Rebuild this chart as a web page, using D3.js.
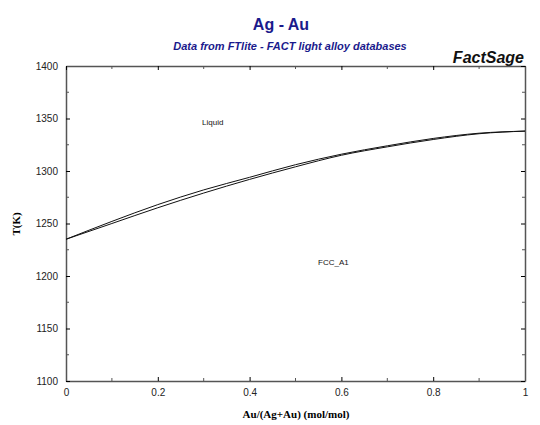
<!DOCTYPE html>
<html><head><meta charset="utf-8">
<script src="https://cdn.jsdelivr.net/npm/d3@7"></script>
<style>body{margin:0;background:#fff}</style>
</head><body>
<script>
var xs = [0, 0.1, 0.2, 0.3, 0.4, 0.5, 0.6, 0.7, 0.8, 0.9, 1.0];
var liquidus = [1235, 1252, 1268, 1282, 1294, 1306, 1316, 1324, 1331, 1336, 1338];
var solidus = [1235, 1250, 1265, 1279, 1292, 1304, 1315, 1323, 1330, 1335.5, 1338];
var xTicks = [0, 0.2, 0.4, 0.6, 0.8, 1];
var yTicks = [1100, 1150, 1200, 1250, 1300, 1350, 1400];

var svg = d3.select('body').append('svg').attr('width', 540).attr('height', 425);
var x = d3.scaleLinear().domain([0, 1]).range([66, 525]);
var y = d3.scaleLinear().domain([1100, 1400]).range([381, 66]);
var font = 'Arial, "Liberation Sans", sans-serif';

svg.append('text').attr('x', 281).attr('y', 30).attr('text-anchor', 'middle')
  .attr('font-family', font).attr('font-weight', 'bold').attr('font-size', 16)
  .attr('fill', '#1a1a8c').text('Ag - Au');
svg.append('text').attr('x', 290).attr('y', 50).attr('text-anchor', 'middle')
  .attr('font-family', font).attr('font-weight', 'bold').attr('font-style', 'italic')
  .attr('font-size', 11).attr('fill', '#1a1a8c').text('Data from FTlite - FACT light alloy databases');
svg.append('text').attr('x', 524).attr('y', 63).attr('text-anchor', 'end')
  .attr('font-family', font).attr('font-weight', 'bold').attr('font-style', 'italic')
  .attr('font-size', 16).attr('fill', '#111').text('FactSage');

function ax(gen, tx, ty, ticks) {
  var g = svg.append('g').attr('transform', 'translate(' + tx + ',' + ty + ')')
    .call(gen.tickValues(ticks).tickSizeInner(-4).tickSizeOuter(0).tickPadding(8));
  g.selectAll('text').attr('font-family', font).attr('font-size', 10).attr('fill', '#222');
  g.select('.domain').attr('stroke', '#555').attr('stroke-width', 1.5);
  return g;
}
var xMinor = d3.range(0.1, 1, 0.2), yMinor = d3.range(1125, 1400, 50);
ax(d3.axisBottom(x).tickFormat(d3.format('~g')), 0, 381, xTicks);
ax(d3.axisLeft(y).tickFormat(d3.format('d')), 66, 0, yTicks);
ax(d3.axisTop(x), 0, 66, xTicks).selectAll('text').remove();
ax(d3.axisRight(y), 525, 0, yTicks).selectAll('text').remove();
svg.append('g').selectAll('line').data(xMinor).join('line')
  .attr('x1', x).attr('x2', x).attr('y1', 381).attr('y2', 378).attr('stroke', '#555');
svg.append('g').selectAll('line').data(xMinor).join('line')
  .attr('x1', x).attr('x2', x).attr('y1', 66).attr('y2', 69).attr('stroke', '#555');
svg.append('g').selectAll('line').data(yMinor).join('line')
  .attr('y1', y).attr('y2', y).attr('x1', 66).attr('x2', 69).attr('stroke', '#555');
svg.append('g').selectAll('line').data(yMinor).join('line')
  .attr('y1', y).attr('y2', y).attr('x1', 525).attr('x2', 522).attr('stroke', '#555');

var line = d3.line().x(function (d) { return x(d[0]); }).y(function (d) { return y(d[1]); }).curve(d3.curveMonotoneX);
[liquidus, solidus].forEach(function (s) {
  svg.append('path').datum(xs.map(function (v, i) { return [v, s[i]]; }))
    .attr('d', line).attr('fill', 'none').attr('stroke', '#111').attr('stroke-width', 1);
});

svg.append('text').attr('x', 202).attr('y', 125).attr('font-family', font).attr('font-size', 8).attr('fill', '#111').text('Liquid');
svg.append('text').attr('x', 318).attr('y', 265).attr('font-family', font).attr('font-size', 8).attr('fill', '#111').text('FCC_A1');
svg.append('text').attr('x', 296).attr('y', 418).attr('text-anchor', 'middle')
  .attr('font-family', '"Liberation Serif", "Times New Roman", serif').attr('font-weight', 'bold')
  .attr('font-size', 11).text('Au/(Ag+Au) (mol/mol)');
svg.append('text').attr('transform', 'translate(20,224) rotate(-90)').attr('text-anchor', 'middle')
  .attr('font-family', '"Liberation Serif", "Times New Roman", serif').attr('font-weight', 'bold')
  .attr('font-size', 11).text('T(K)');
</script>
</body></html>
